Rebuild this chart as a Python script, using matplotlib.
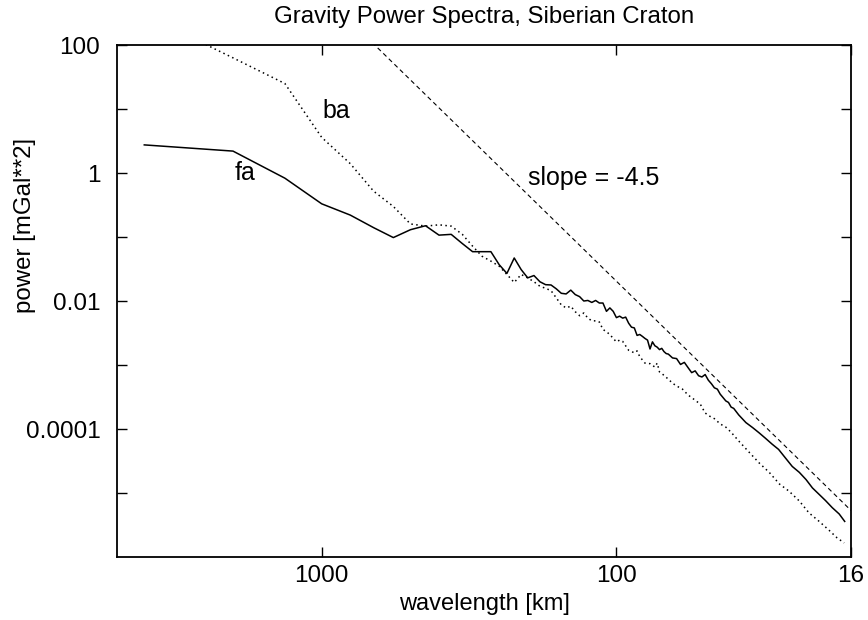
import numpy as np
import matplotlib
matplotlib.use("Agg")
import matplotlib.pyplot as plt
from matplotlib.ticker import FixedLocator, FixedFormatter, NullLocator

plt.rcParams["font.family"] = ["Liberation Sans", "DejaVu Sans"]

# Data: spectral harmonic index n -> wavelength = domain / n
domain_km = 4000.0

fa_n = [1, 2, 3, 4, 5, 6, 7, 8, 9, 10, 11, 12, 13, 14, 15, 16, 17, 18, 19, 20,
        21, 22, 23, 24, 25, 26, 27, 28, 29, 30, 31, 32, 33, 34, 35, 36, 37, 38, 39, 40,
        41, 42, 43, 44, 45, 46, 47, 48, 49, 50, 51, 52, 53, 54, 55, 56, 57, 58, 59, 60,
        62, 64, 66, 68, 70, 72, 74, 76, 78, 80, 82, 84, 86, 88, 90, 92, 94, 96, 98, 100,
        104, 110, 116, 122, 128, 135, 142, 150, 158, 167, 176, 185, 195, 205, 216, 228, 238]
fa_power = [2.75, 2.2, 0.83, 0.33, 0.22, 0.14, 0.098, 0.13, 0.15, 0.107, 0.11, 0.079,
            0.059, 0.059, 0.059, 0.037, 0.027, 0.047, 0.031, 0.023,
            0.025, 0.020, 0.018, 0.0178, 0.0155, 0.0132, 0.0129, 0.0148, 0.0126, 0.0117,
            0.0100, 0.0102, 0.0095, 0.0102, 0.0093, 0.0093, 0.0069, 0.0078, 0.0069, 0.0055,
            0.0058, 0.0054, 0.0056, 0.0045, 0.0039, 0.0038, 0.0029, 0.0030, 0.0028, 0.0026,
            0.00245, 0.00178, 0.0023, 0.0020, 0.0019, 0.00174, 0.00182, 0.00162, 0.00151, 0.00148,
            0.00129, 0.00126, 0.00102, 0.0011, 9.1e-4, 7.6e-4, 8.1e-4, 6.8e-4, 6.5e-4, 7.1e-4,
            5.8e-4, 5.1e-4, 4.4e-4, 4.2e-4, 3.5e-4, 3.1e-4, 2.75e-4, 2.6e-4, 2.2e-4, 2.1e-4,
            1.66e-4, 1.26e-4, 1.05e-4, 8.7e-5, 7.2e-5, 5.8e-5, 4.8e-5, 3.5e-5, 2.6e-5, 2.1e-5,
            1.62e-5, 1.2e-5, 9.5e-6, 7.6e-6, 5.9e-6, 4.7e-6, 3.6e-6]

ba_n = [1, 2, 3, 4, 5, 6, 7, 8, 9, 10, 11, 12, 13, 14, 15, 16, 17, 18, 19, 20,
        21, 22, 23, 24, 25, 26, 27, 28, 29, 30, 31, 32, 33, 34, 35, 36, 37, 38, 39, 40,
        41, 42, 44, 46, 47, 48, 50, 52, 54, 55, 56, 58, 60, 62, 64, 67, 70, 73, 77, 80,
        83, 86, 90, 94, 98, 104, 113, 122, 132, 143, 154, 167, 180, 195, 211, 224, 237]
ba_power = [300, 63, 25, 3.6, 1.4, 0.52, 0.30, 0.16, 0.148, 0.155, 0.148, 0.11, 0.072,
            0.050, 0.042, 0.035, 0.026, 0.0195, 0.026, 0.023,
            0.020, 0.017, 0.0158, 0.0145, 0.0112, 0.0087, 0.0078, 0.0083, 0.0068, 0.0059,
            0.0065, 0.0054, 0.0049, 0.0049, 0.0047, 0.0036, 0.0033, 0.0030, 0.0026, 0.0023,
            0.00245, 0.00234, 0.0017, 0.00155, 0.00166, 0.00135, 0.00107, 0.00105, 9.3e-4, 1.07e-3,
            7.8e-4, 6.9e-4, 6.0e-4, 5.2e-4, 4.7e-4, 4.2e-4, 3.4e-4, 2.95e-4, 2.45e-4, 1.78e-4,
            1.58e-4, 1.45e-4, 1.2e-4, 1.07e-4, 8.9e-5, 6.5e-5, 4.3e-5, 2.95e-5, 2.1e-5, 1.38e-5,
            1.07e-5, 7.5e-6, 4.9e-6, 3.6e-6, 2.6e-6, 2.0e-6, 1.66e-6]

# reference power law: power ~ wavelength**4.5 (slope -4.5 in wavenumber)
slope = -4.5
slope_anchor_km = 661.0
slope_anchor_power = 100.0

y_ticks = [1e2, 1e1, 1, 1e-1, 1e-2, 1e-3, 1e-4, 1e-5]
y_labels = ["100", "", "1", "", "0.01", "", "0.0001", ""]
x_ticks = [1000, 100, 16]
x_labels = ["1000", "100", "16"]

fa_wl = domain_km / np.array(fa_n)
ba_wl = domain_km / np.array(ba_n)
ref_wl = np.array([domain_km, 16.0])
ref_power = slope_anchor_power * (ref_wl / slope_anchor_km) ** (-slope)

fig = plt.figure(figsize=(8.68, 6.2), dpi=100)
ax = fig.add_axes([0.1348, 0.1016, 0.8456, 0.8258])

ax.plot(fa_wl, fa_power, color="black", lw=1.1)
ax.plot(ba_wl, ba_power, color="black", lw=1.1, linestyle=(0, (1, 2.2)))
ax.plot(ref_wl, ref_power, color="black", lw=0.8, linestyle=(0, (4, 3)))

ax.set_xscale("log")
ax.set_yscale("log")
ax.set_xlim(4950, 16)
ax.set_ylim(1e-6, 1e2)

ax.xaxis.set_major_locator(FixedLocator(x_ticks))
ax.xaxis.set_major_formatter(FixedFormatter(x_labels))
ax.xaxis.set_minor_locator(NullLocator())
ax.yaxis.set_major_locator(FixedLocator(y_ticks))
ax.yaxis.set_major_formatter(FixedFormatter(y_labels))
ax.yaxis.set_minor_locator(NullLocator())

ax.tick_params(axis="both", direction="in", top=True, right=True,
               length=7, width=1, labelsize=17.5)
ax.tick_params(axis="y", pad=12)
ax.tick_params(axis="x", pad=6)
for s in ax.spines.values():
    s.set_linewidth(1.3)

ax.text(890, 9.3, "ba", fontsize=18, ha="center", va="center")
ax.text(1824, 1.0, "fa", fontsize=18, ha="center", va="center")
ax.text(200, 0.835, "slope = -4.5", fontsize=18, ha="left", va="center")

ax.set_title("Gravity Power Spectra, Siberian Craton", fontsize=17.3, pad=16)
ax.set_xlabel("wavelength [km]", fontsize=17, va="top")
ax.set_ylabel("power [mGal**2]", fontsize=17.3)
ax.xaxis.set_label_coords(0.5, -0.0703)
ax.yaxis.set_label_coords(-0.11, 0.648)

fig.savefig("out.png", dpi=100)
